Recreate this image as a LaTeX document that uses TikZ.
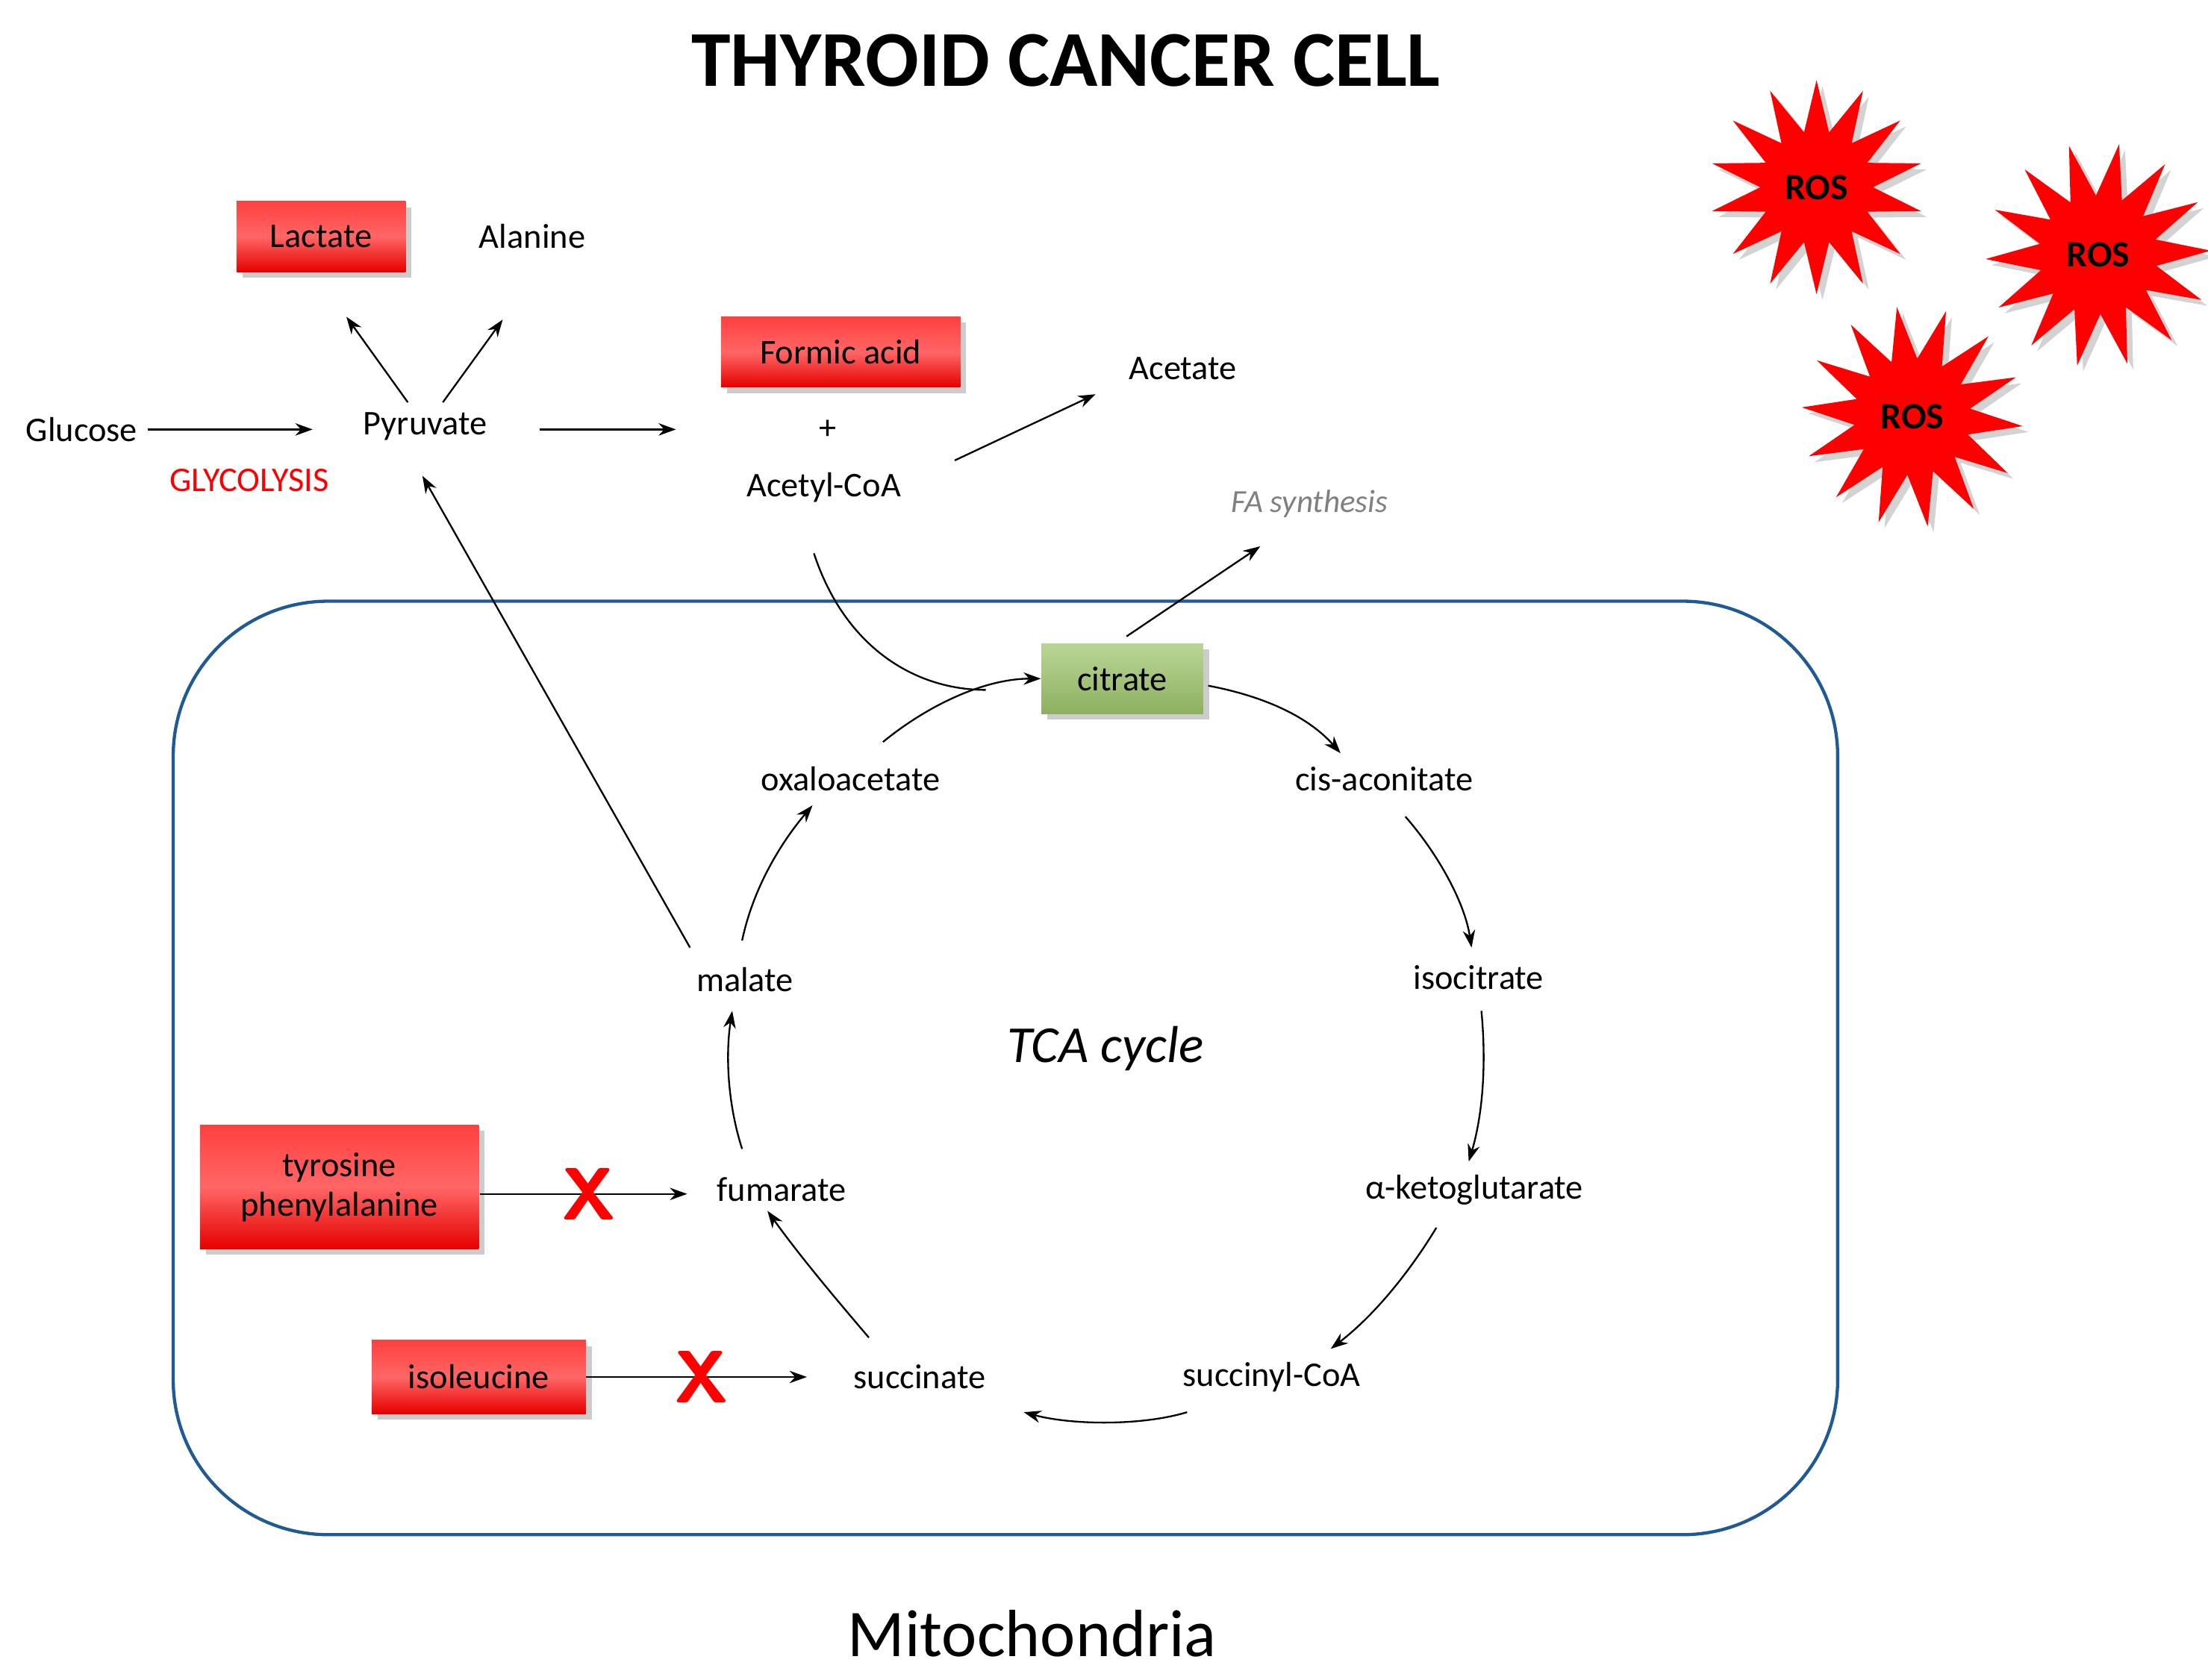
\documentclass[tikz,border=0pt]{standalone}
\usepackage{fontspec}
\setmainfont{Carlito}
\usetikzlibrary{shapes.geometric,shadows,arrows.meta}
\definecolor{mito}{HTML}{1F5A96}
\definecolor{gbox}{HTML}{9CC46A}
\begin{document}
\begin{tikzpicture}[x=0.02cm,y=-0.02cm,
  every node/.style={font=\fontsize{14}{16}\selectfont},
  lbl/.style={inner sep=4pt},
  redbox/.style={draw=none,top color=red!75!white,bottom color=red!90!black,middle color=red!60!white,drop shadow={opacity=0.4},align=center,inner sep=3pt},
  ar/.style={-{Stealth[length=7pt,width=5pt]},line width=0.7pt},
  ros/.style={star,star points=14,star point ratio=1.9,fill=red,draw=none,minimum size=2.7cm,drop shadow={opacity=0.35},font=\fontsize{15}{17}\selectfont\bfseries}]
\useasboundingbox (0,0) rectangle (1568,1193);
\node at (757,43) {\fontsize{32}{36}\selectfont\bfseries THYROID CANCER CELL};
\draw[mito,line width=1.3pt,rounded corners=2.2cm] (123,427) rectangle (1305,1090);
\node at (733,1160) {\fontsize{27}{30}\selectfont Mitochondria};
\node[ros] (r1) at (1290,133) {ROS};
\node[ros,rotate=15] (r2) at (1490,181) {\rotatebox{-15}{ROS}};
\node[ros,rotate=8] (r3) at (1358,296) {\rotatebox{-8}{ROS}};
\node[redbox,minimum width=2.4cm,minimum height=1cm] (lac) at (228,168) {Lactate};
\node[lbl] (ala) at (378,168) {Alanine};
\node[lbl] (glu) at (58,305) {Glucose};
\node[lbl] (pyr) at (302,303) {Pyruvate};
\node[text=red] (gly) at (177,341) {GLYCOLYSIS};
\node[redbox,minimum width=3.4cm,minimum height=1cm] (form) at (597,250) {Formic acid};
\node (plus) at (588,305) {+};
\node[lbl] (acoa) at (585,346) {Acetyl-CoA};
\node[lbl] (acet) at (840,262) {Acetate};
\node[lbl,text=gray,font=\fontsize{13}{15}\selectfont\itshape] (fa) at (930,358) {FA synthesis};
\node[draw=none,top color=gbox!70!white,bottom color=gbox!90!black,drop shadow={opacity=0.4},minimum width=2.3cm,minimum height=1cm] (cit) at (797,482) {citrate};
\node[lbl] (cis) at (983,553) {cis-aconitate};
\node[lbl] (iso) at (1050,694) {isocitrate};
\node[lbl] (akg) at (1047,845) {α-ketoglutarate};
\node[lbl] (scoa) at (903,978) {succinyl-CoA};
\node[lbl] (succ) at (653,978) {succinate};
\node[lbl] (fum) at (555,845) {fumarate};
\node[lbl] (mal) at (529,696) {malate};
\node[lbl] (oxa) at (604,553) {oxaloacetate};
\node at (785,745) {\fontsize{21}{24}\selectfont\itshape TCA cycle};
\node[redbox,minimum width=3.96cm,minimum height=1.76cm] (tyr) at (241,843) {tyrosine\\phenylalanine};
\node[redbox,minimum width=3.04cm,minimum height=1.04cm] (ile) at (340,978) {isoleucine};
\coordinate (tyre) at (341,848);
\coordinate (fa0) at (800,452);
\draw[ar] (glu) -- (222,305);
\draw[ar] (pyr) -- (246,225);
\draw[ar] (pyr) -- (357,227);
\draw[ar] (383,305) -- (480,305);
\draw[ar] (678,327) -- (778,280);
\draw[ar] (fa0) -- (895,388);
\draw[line width=0.7pt] (578,393) .. controls (600,460) and (650,490) .. (700,490);
\draw[ar] (627,527) .. controls (660,500) and (700,482) .. (cit.west);
\draw[ar] (858,487) .. controls (900,495) and (930,510) .. (952,535);
\draw[ar] (998,580) .. controls (1020,605) and (1040,640) .. (1045,673);
\draw[ar] (1052,718) .. controls (1056,760) and (1052,795) .. (1043,825);
\draw[ar] (1020,872) .. controls (1000,905) and (975,935) .. (945,958);
\draw[ar] (843,1003) .. controls (810,1013) and (760,1012) .. (727,1003);
\draw[ar] (617,950) .. controls (600,930) and (570,895) .. (545,860);
\draw[ar] (527,816) .. controls (517,785) and (515,750) .. (520,718);
\draw[ar] (527,668) .. controls (535,630) and (555,598) .. (577,572);
\draw[ar] (490,673) -- (300,338);
\draw[ar] (tyre) -- (488,848);
\draw[ar] (ile.east) -- (573,978);
\node[text=red,font=\fontsize{30}{30}\selectfont\bfseries\sffamily] at (418,848) {X};
\node[text=red,font=\fontsize{30}{30}\selectfont\bfseries\sffamily] at (498,978) {X};
\end{tikzpicture}
\end{document}
